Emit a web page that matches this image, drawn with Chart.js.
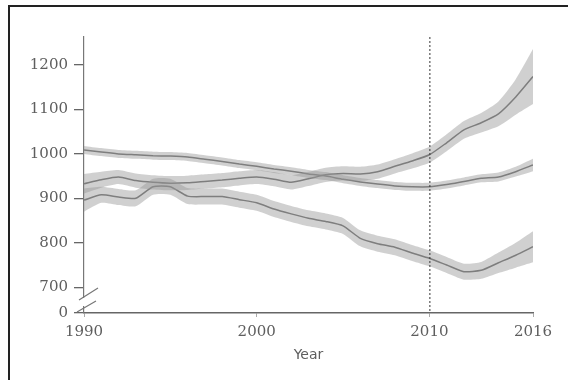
<!DOCTYPE html>
<html>
<head>
<meta charset="utf-8">
<script src="https://cdn.jsdelivr.net/npm/chart.js@4.4.0/dist/chart.umd.min.js"></script>
<style>
  html, body { margin: 0; padding: 0; background: #fff; }
  #wrap { position: relative; width: 568px; height: 380px; overflow: hidden; }
  #frame { position: absolute; left: 8px; top: 5px; width: 600px; height: 400px;
           border-top: 2px solid #222; border-left: 2px solid #222; box-sizing: border-box; pointer-events: none; }
  canvas { position: absolute; left: 0; top: 0; }
</style>
</head>
<body>
<div id="wrap">
  <canvas id="chart" width="568" height="380"></canvas>
  <div id="frame"></div>
</div>
<script>
// years on the x axis
const years = [1990,1991,1992,1993,1994,1995,1996,1997,1998,1999,2000,2001,2002,2003,
               2004,2005,2006,2007,2008,2009,2010,2011,2012,2013,2014,2015,2016];
const xTicks = [1990, 2000, 2010, 2016];
const yTicks = [700, 800, 900, 1000, 1100, 1200];
const yBreakValue = 642;   // bottom of the broken axis, labelled "0"
const markerYear = 2010;

// series starting near 1010 (narrow band)
const aMid  = [1009,1004,1000,998,996,995,993,988,983,977,972,966,961,955,950,943,937,932,928,926,926,931,938,945,948,960,975];
const aHigh = [1018,1013,1009,1007,1005,1004,1002,997,992,986,981,975,970,964,959,952,946,941,937,935,935,940,947,954,958,971,989];
const aLow  = [1000,995,991,989,987,986,984,979,974,968,963,957,952,946,941,934,928,923,919,917,917,922,929,936,938,949,961];

// series rising to ~1170
const bMid  = [933,942,948,940,936,934,935,938,941,945,948,943,936,944,953,956,955,960,972,984,998,1025,1054,1070,1090,1128,1174];
const bHigh = [955,960,964,956,952,950,951,954,957,961,964,959,952,960,969,972,971,976,988,1001,1016,1044,1074,1092,1118,1168,1236];
const bLow  = [911,924,932,924,920,918,919,922,925,929,932,927,920,928,937,940,939,944,956,967,980,1006,1034,1048,1062,1088,1112];

// series falling to ~735
const cMid  = [896,908,903,900,926,926,905,904,904,897,890,876,865,855,848,838,810,798,790,777,765,750,735,738,755,772,791];
const cHigh = [922,926,921,918,944,944,923,922,922,915,908,894,883,873,866,856,828,816,808,795,783,768,753,757,778,800,826];
const cLow  = [870,890,885,882,908,908,887,886,886,879,872,858,847,837,830,820,792,780,772,759,747,732,717,719,732,744,756];

const lineColor = '#6a6a6a';
const bandColor = 'rgba(150,150,150,0.45)';
const textColor = '#5e5e5e';
const tickFont = { family: 'DejaVu Serif', size: 15 };

const pts = arr => arr.map((v, i) => ({ x: years[i], y: v }));

const band = (high, low) => ([
  { data: pts(high), borderWidth: 0, pointRadius: 0, backgroundColor: bandColor, fill: '+1', tension: 0.2 },
  { data: pts(low), borderWidth: 0, pointRadius: 0, backgroundColor: bandColor, fill: false, tension: 0.2 }
]);
const line = mid => ({ data: pts(mid), borderColor: lineColor, borderWidth: 1.5, pointRadius: 0, fill: false, tension: 0.2 });

// dotted marker at 2010 and the axis break
const extras = {
  id: 'extras',
  afterDraw(chart) {
    const { ctx, chartArea, scales } = chart;
    const x = scales.x.getPixelForValue(markerYear);
    ctx.save();
    ctx.strokeStyle = '#333';
    ctx.lineWidth = 1;
    ctx.setLineDash([2, 2]);
    ctx.beginPath();
    ctx.moveTo(x + 0.5, chartArea.top);
    ctx.lineTo(x + 0.5, chartArea.bottom);
    ctx.stroke();
    ctx.setLineDash([]);

    // axis break
    const ax = chartArea.left;
    const yb = chartArea.bottom;
    ctx.fillStyle = '#fff';
    ctx.fillRect(ax - 2, yb - 15, 4, 8);
    ctx.strokeStyle = '#777';
    ctx.lineWidth = 1.2;
    ctx.beginPath();
    ctx.moveTo(ax - 5, yb - 13); ctx.lineTo(ax + 14, yb - 25);
    ctx.moveTo(ax - 7, yb - 1);  ctx.lineTo(ax + 12, yb - 12);
    ctx.stroke();
    ctx.restore();
  }
};

new Chart(document.getElementById('chart'), {
  type: 'line',
  data: {
    datasets: [
      ...band(aHigh, aLow),
      ...band(bHigh, bLow),
      ...band(cHigh, cLow),
      line(aMid), line(bMid), line(cMid)
    ]
  },
  options: {
    responsive: false,
    animation: false,
    layout: { padding: { top: 37, right: 35, left: 0, bottom: 0 } },
    plugins: { legend: { display: false }, tooltip: { enabled: false } },
    scales: {
      x: {
        type: 'linear',
        min: 1990,
        max: 2016,
        afterBuildTicks: s => { s.ticks = xTicks.map(v => ({ value: v })); },
        afterFit: s => { s.height = 67; },
        grid: { display: true, drawOnChartArea: false, drawTicks: true, tickLength: 4, color: '#aaa' },
        border: { color: '#666', width: 1.5 },
        ticks: { color: textColor, padding: 6, maxRotation: 0, font: tickFont, callback: v => String(v) },
        title: { display: true, text: 'Year', color: textColor, font: { family: 'DejaVu Sans', size: 14 }, padding: { top: 0, bottom: 16 } }
      },
      y: {
        min: yBreakValue,
        max: 1263,
        afterBuildTicks: s => { s.ticks = [yBreakValue, ...yTicks].map(v => ({ value: v })); },
        afterFit: s => { s.width = 84; },
        grid: { display: true, drawOnChartArea: false, drawTicks: true, tickLength: 10, color: '#666', lineWidth: 1.3 },
        border: { color: '#777', width: 1.2 },
        ticks: { color: textColor, padding: 6, font: tickFont,
                 callback: v => v === yBreakValue ? '0' : String(v) }
      }
    }
  },
  plugins: [extras]
});
</script>
</body>
</html>
